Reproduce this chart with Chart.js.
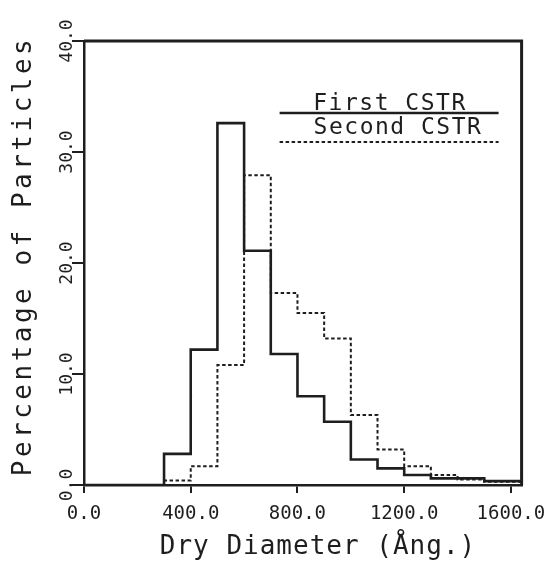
<!DOCTYPE html>
<html>
<head>
<meta charset="utf-8">
<script src="https://cdn.jsdelivr.net/npm/chart.js@4.4.0/dist/chart.umd.min.js"></script>
<style>
html, body { margin: 0; padding: 0; background: #fff; }
#wrap { width: 556px; height: 564px; }
</style>
</head>
<body>
<div id="wrap"><canvas id="chart" width="556" height="564"></canvas></div>
<script>
// bin edges in Angstrom; the last one closes the final bin at the frame
const binEdges = [0, 300, 400, 500, 600, 700, 800, 900, 1000, 1100, 1200, 1300, 1400, 1500, 1640];
// percentage of particles per bin
const firstCSTR = [0, 2.8, 12.2, 32.6, 21.1, 11.8, 8.0, 5.7, 2.3, 1.5, 0.9, 0.6, 0.6, 0.35];
const secondCSTR = [0, 0.4, 1.7, 10.8, 27.9, 17.3, 15.5, 13.2, 6.3, 3.2, 1.7, 0.9, 0.5, 0.3];
const xTicks = [0, 400, 800, 1200, 1600];
const yTicks = [0, 10, 20, 30, 40];
const seriesNames = ['First CSTR', 'Second CSTR'];
const xTitle = 'Dry Diameter (\u00c5ng.)';
const yTitle = 'Percentage of Particles';

const ink = '#1e1e1e';
const mono = '"DejaVu Sans Mono", "Liberation Mono", monospace';

// histogram -> stepped line points
function toSteps(values) {
    const pts = values.map((v, i) => ({ x: binEdges[i], y: v }));
    pts.push({ x: binEdges[binEdges.length - 1], y: values[values.length - 1] });
    return pts;
}

// frame, rotated y labels, titles and the hand drawn legend
const plotterText = {
    id: 'plotterText',
    afterDraw(chart) {
        const ctx = chart.ctx;
        const area = chart.chartArea;
        const ys = chart.scales.y;
        ctx.save();
        ctx.strokeStyle = ink;
        ctx.fillStyle = ink;

        // top and right side of the frame
        ctx.lineWidth = 3;
        ctx.beginPath();
        ctx.moveTo(area.left, area.top);
        ctx.lineTo(area.right, area.top);
        ctx.lineTo(area.right, area.bottom);
        ctx.stroke();

        // y tick labels, reading upwards
        ctx.font = '18px ' + mono;
        ctx.textAlign = 'center';
        ctx.textBaseline = 'middle';
        yTicks.forEach(v => {
            ctx.save();
            ctx.translate(area.left - 17, ys.getPixelForValue(v));
            ctx.rotate(-Math.PI / 2);
            ctx.fillText(v.toFixed(1), 0, 0);
            ctx.restore();
        });

        // axis titles
        ctx.font = '26px ' + mono;
        ctx.letterSpacing = '1px';
        ctx.textBaseline = 'alphabetic';
        ctx.fillText(xTitle, 318, 554);
        ctx.save();
        ctx.letterSpacing = '3.5px';
        ctx.translate(31, 256);
        ctx.rotate(-Math.PI / 2);
        ctx.fillText(yTitle, 0, 0);
        ctx.restore();

        // legend
        const lx0 = area.right - 242;
        const lx1 = area.right - 23;
        ctx.font = '23px ' + mono;
        ctx.letterSpacing = '1.5px';
        ctx.fillText(seriesNames[0], 390, 110);
        ctx.fillText(seriesNames[1], 398, 134);
        ctx.lineWidth = 2.5;
        ctx.beginPath();
        ctx.moveTo(lx0, 113);
        ctx.lineTo(lx1, 113);
        ctx.stroke();
        ctx.lineWidth = 2;
        ctx.setLineDash([3.5, 2.5]);
        ctx.beginPath();
        ctx.moveTo(lx0, 142);
        ctx.lineTo(lx1, 142);
        ctx.stroke();
        ctx.restore();
    }
};

const ctx = document.getElementById('chart');
new Chart(ctx, {
    type: 'line',
    data: {
        datasets: [{
            label: seriesNames[1],
            data: toSteps(secondCSTR),
            borderColor: ink,
            borderWidth: 2,
            borderDash: [3.5, 2.5],
            stepped: true,
            pointRadius: 0,
            fill: false
        }, {
            label: seriesNames[0],
            data: toSteps(firstCSTR),
            borderColor: ink,
            borderWidth: 2.6,
            stepped: true,
            pointRadius: 0,
            fill: false
        }]
    },
    options: {
        responsive: false,
        animation: false,
        devicePixelRatio: 1,
        layout: { padding: { top: 41, right: 31, left: 0, bottom: 0 } },
        plugins: {
            legend: { display: false },
            tooltip: { enabled: false }
        },
        scales: {
            x: {
                type: 'linear',
                min: 0,
                max: 1640,
                afterBuildTicks: scale => { scale.ticks = xTicks.map(v => ({ value: v })); },
                afterFit: scale => { scale.height = 79; },
                ticks: {
                    callback: v => v.toFixed(1),
                    color: ink,
                    font: { family: mono, size: 19 },
                    padding: 10,
                    maxRotation: 0
                },
                grid: { drawOnChartArea: false, color: ink, lineWidth: 2, tickLength: 8 },
                border: { color: ink, width: 2.5 }
            },
            y: {
                min: 0,
                max: 40,
                afterBuildTicks: scale => { scale.ticks = yTicks.map(v => ({ value: v })); },
                afterFit: scale => { scale.width = 84; },
                ticks: { display: false },
                grid: { drawOnChartArea: false, color: ink, lineWidth: 2, tickLength: 12 },
                border: { color: ink, width: 2.5 }
            }
        }
    },
    plugins: [plotterText]
});
</script>
</body>
</html>
